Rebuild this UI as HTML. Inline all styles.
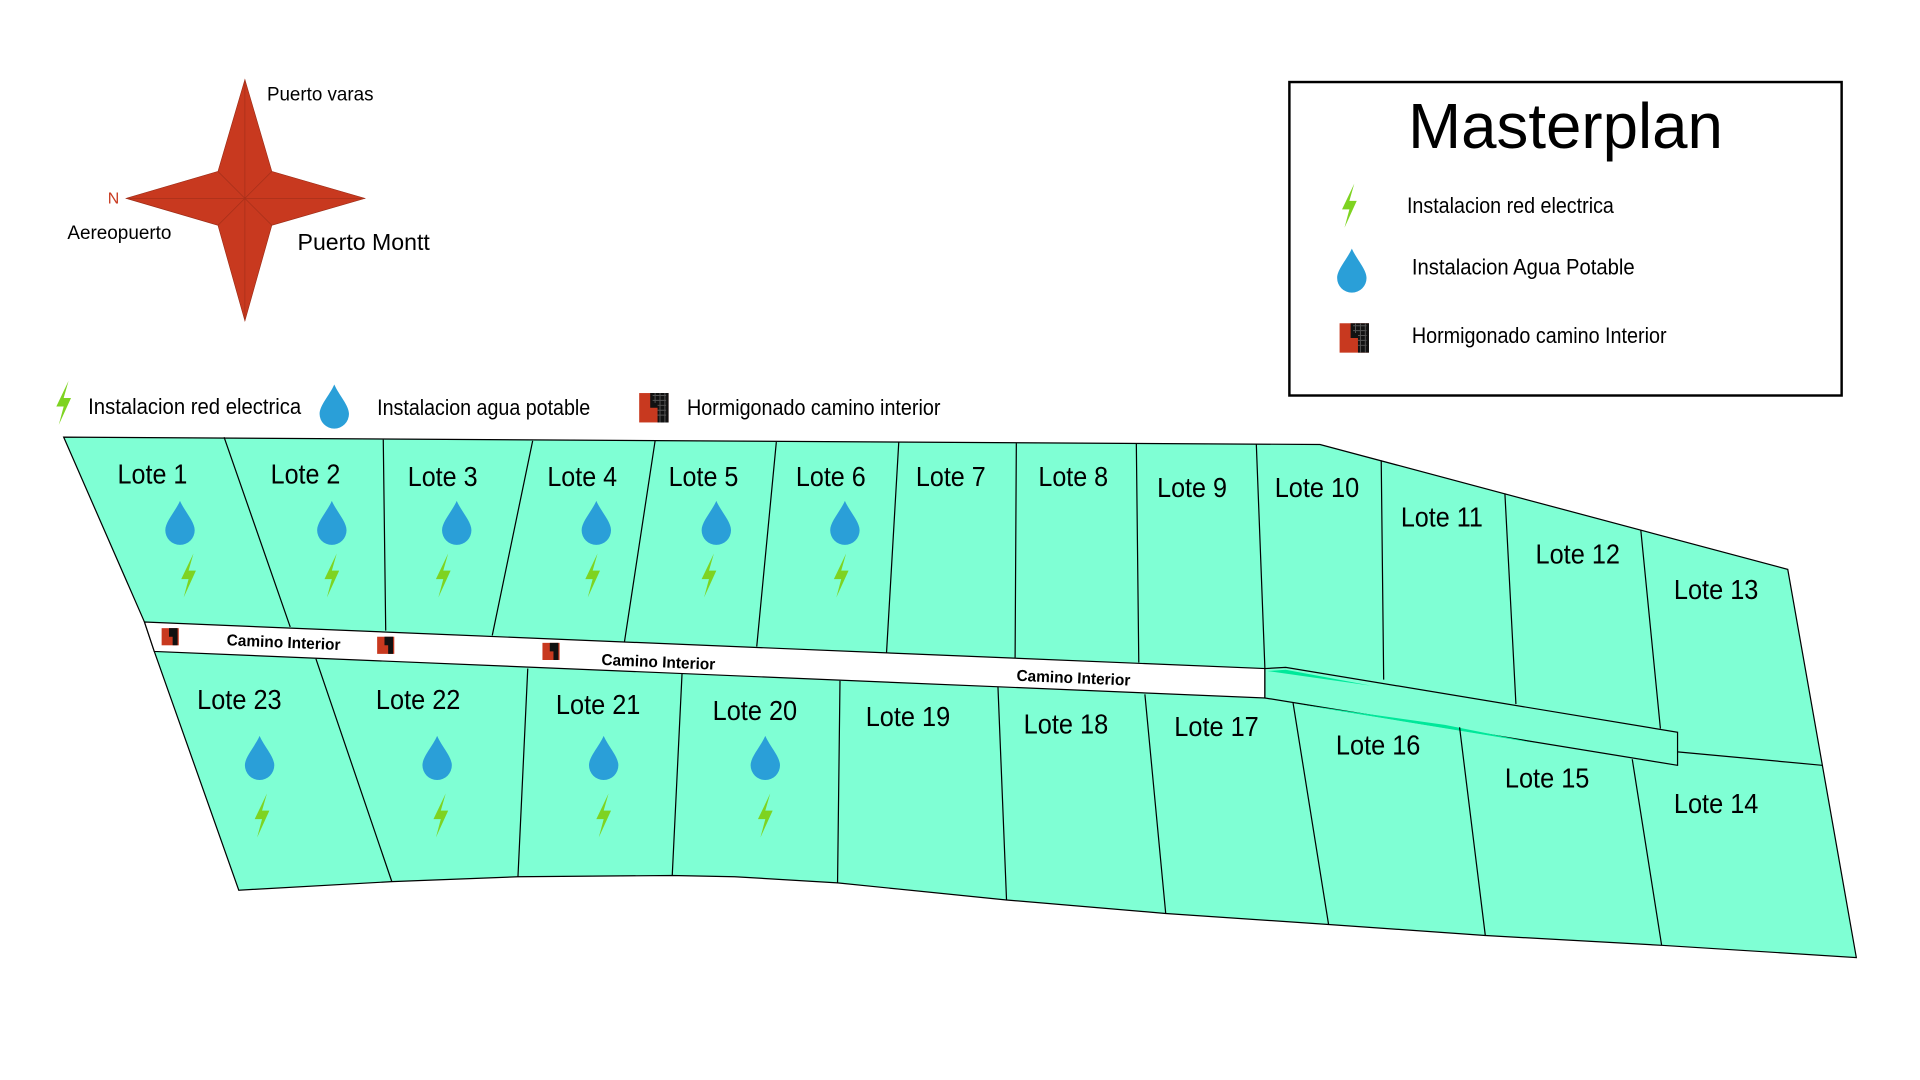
<!DOCTYPE html>
<html><head><meta charset="utf-8"><style>
html,body{margin:0;padding:0;background:#fff;width:1920px;height:1080px;overflow:hidden}
svg{display:block}
text{font-family:"Liberation Sans",sans-serif;fill:#000}
</style></head><body>
<svg width="1920" height="1080" viewBox="0 0 1568 882" preserveAspectRatio="none" xmlns="http://www.w3.org/2000/svg">
<defs>
<path id="drop" d="M0,-17 C4,-8 12,0 12,7 A12,12 0 0 1 -12,7 C-12,0 -4,-8 0,-17Z" fill="#2a9fd8"/>
<polygon id="bolt" points="4,-18 -6,3 0,3 -4,18 6,-4 0,-4" fill="#7ed321"/>
<g id="conc"><rect x="-12" y="-12" width="24" height="24" fill="#c8391f"/><path d="M-3,-12 H12 V12 H3 V0 H-3Z" fill="#111"/><path d="M-1,-10 H10 M-1,-6 H10 M3,-2 H10 M3,2 H10 M3,6 H10 M1,-12 V-4 M5,-12 V12 M9,-12 V12" stroke="#555" stroke-width="0.8"/></g>
<g id="concs"><rect x="-7" y="-7" width="14" height="14" fill="#c8391f"/><path d="M-1,-7 H6 V7 H2 V0 H-1Z" fill="#111"/></g>
</defs>

<g fill="#c8391f" stroke="#9a2a15" stroke-width="0.5">
<polygon points="200,65 222,140 298,162 222,184 200,262 178,184 103,162 178,140"/>
</g>
<path d="M200,65 V262 M103,162 H298 M178,140 L222,184 M222,140 L178,184" stroke="#a8301a" stroke-width="0.6"/>
<text x="218" y="82" font-size="16" textLength="87" lengthAdjust="spacingAndGlyphs">Puerto varas</text>
<text x="88" y="166" font-size="13" style="fill:#c8391f">N</text>
<text x="55" y="195" font-size="16" textLength="85" lengthAdjust="spacingAndGlyphs">Aereopuerto</text>
<text x="243" y="204" font-size="19" textLength="108" lengthAdjust="spacingAndGlyphs">Puerto Montt</text>

<rect x="1053" y="67" width="451" height="256" fill="#fff" stroke="#000" stroke-width="2"/>
<text x="1150" y="121" font-size="52" textLength="257" lengthAdjust="spacingAndGlyphs">Masterplan</text>
<use href="#bolt" x="1102" y="168"/>
<text x="1149" y="174" font-size="18" textLength="169" lengthAdjust="spacingAndGlyphs">Instalacion red electrica</text>
<use href="#drop" x="1104" y="220"/>
<text x="1153" y="224" font-size="18" textLength="182" lengthAdjust="spacingAndGlyphs">Instalacion  Agua Potable</text>
<use href="#conc" x="1106" y="276"/>
<text x="1153" y="280" font-size="18" textLength="208" lengthAdjust="spacingAndGlyphs">Hormigonado camino Interior</text>

<use href="#bolt" x="52" y="329"/>
<text x="72" y="338" font-size="18" textLength="174" lengthAdjust="spacingAndGlyphs">Instalacion  red electrica</text>
<use href="#drop" x="273" y="331"/>
<text x="308" y="339" font-size="18" textLength="174" lengthAdjust="spacingAndGlyphs">Instalacion agua potable</text>
<use href="#conc" x="534" y="333"/>
<text x="561" y="339" font-size="18" textLength="207" lengthAdjust="spacingAndGlyphs">Hormigonado camino interior</text>

<polygon points="52,357 1078,363 1460,465 1516,782 1357,772 1213,764 1085,755 952,746 822,735 684,721 600,716 549,715 423,716 320,720 195,727 126,532 118,508" fill="#7fffd4" stroke="#000" stroke-width="1"/>
<polygon points="118,508 1033,546 1033,570 126,532" fill="#fff" stroke="#000" stroke-width="1"/>
<polygon points="1033,546 1050,545 1370,598 1370,625 1033,570" fill="#7fffd4" stroke="#000" stroke-width="1"/>
<path d="M1035,548 L1050,547 L1120,560 Z" fill="#00e89a"/>
<path d="M1060,575 L1180,592 L1255,607 Z" fill="#00e89a"/>
<g stroke="#000" stroke-width="1" fill="none">
<path d="M183,357 L237,512 M313,359 L315,515 M435,360 L402,519 M535,360 L510,524 M634,361 L618,528 M734,361 L724,533 M830,362 L829,537 M928,362 L930,541 M1026,363 L1033,546 M1128,376 L1130,555 M1229,403 L1238,575 M1340,433 L1356,595"/>
<path d="M1370,614 L1488,625"/>
<path d="M258,538 L320,720 M431,546 L423,716 M557,550 L549,715 M686,556 L684,721 M815,561 L822,735 M935,567 L952,746 M1056,574 L1085,755 M1192,594 L1213,764 M1333,620 L1357,772"/>
</g>

<g font-size="13" font-weight="bold">
<text x="185" y="527" transform="rotate(2.4 185 527)" textLength="93" lengthAdjust="spacingAndGlyphs">Camino  Interior</text>
<text x="491" y="543" transform="rotate(2.4 491 543)" textLength="93" lengthAdjust="spacingAndGlyphs">Camino  Interior</text>
<text x="830" y="556" transform="rotate(2.4 830 556)" textLength="93" lengthAdjust="spacingAndGlyphs">Camino  Interior</text>
</g>
<use href="#concs" x="139" y="520"/>
<use href="#concs" x="315" y="527"/>
<use href="#concs" x="450" y="532"/>

<g font-size="23" lengthAdjust="spacingAndGlyphs">
<text x="96" y="395" textLength="57" lengthAdjust="spacingAndGlyphs">Lote 1</text>
<text x="221" y="395" textLength="57" lengthAdjust="spacingAndGlyphs">Lote 2</text>
<text x="333" y="397" textLength="57" lengthAdjust="spacingAndGlyphs">Lote 3</text>
<text x="447" y="397" textLength="57" lengthAdjust="spacingAndGlyphs">Lote 4</text>
<text x="546" y="397" textLength="57" lengthAdjust="spacingAndGlyphs">Lote 5</text>
<text x="650" y="397" textLength="57" lengthAdjust="spacingAndGlyphs">Lote 6</text>
<text x="748" y="397" textLength="57" lengthAdjust="spacingAndGlyphs">Lote 7</text>
<text x="848" y="397" textLength="57" lengthAdjust="spacingAndGlyphs">Lote 8</text>
<text x="945" y="406" textLength="57" lengthAdjust="spacingAndGlyphs">Lote 9</text>
<text x="1041" y="406" textLength="69" lengthAdjust="spacingAndGlyphs">Lote 10</text>
<text x="1144" y="430" textLength="67" lengthAdjust="spacingAndGlyphs">Lote 11</text>
<text x="1254" y="460" textLength="69" lengthAdjust="spacingAndGlyphs">Lote 12</text>
<text x="1367" y="489" textLength="69" lengthAdjust="spacingAndGlyphs">Lote 13</text>
<text x="1367" y="664" textLength="69" lengthAdjust="spacingAndGlyphs">Lote 14</text>
<text x="1229" y="643" textLength="69" lengthAdjust="spacingAndGlyphs">Lote 15</text>
<text x="1091" y="616" textLength="69" lengthAdjust="spacingAndGlyphs">Lote 16</text>
<text x="959" y="601" textLength="69" lengthAdjust="spacingAndGlyphs">Lote 17</text>
<text x="836" y="599" textLength="69" lengthAdjust="spacingAndGlyphs">Lote 18</text>
<text x="707" y="593" textLength="69" lengthAdjust="spacingAndGlyphs">Lote 19</text>
<text x="582" y="588" textLength="69" lengthAdjust="spacingAndGlyphs">Lote 20</text>
<text x="454" y="583" textLength="69" lengthAdjust="spacingAndGlyphs">Lote 21</text>
<text x="307" y="579" textLength="69" lengthAdjust="spacingAndGlyphs">Lote 22</text>
<text x="161" y="579" textLength="69" lengthAdjust="spacingAndGlyphs">Lote 23</text>
</g>

<use href="#drop" x="147" y="426"/><use href="#bolt" x="154" y="470"/>
<use href="#drop" x="271" y="426"/><use href="#bolt" x="271" y="470"/>
<use href="#drop" x="373" y="426"/><use href="#bolt" x="362" y="470"/>
<use href="#drop" x="487" y="426"/><use href="#bolt" x="484" y="470"/>
<use href="#drop" x="585" y="426"/><use href="#bolt" x="579" y="470"/>
<use href="#drop" x="690" y="426"/><use href="#bolt" x="687" y="470"/>
<use href="#drop" x="212" y="618"/><use href="#bolt" x="214" y="666"/>
<use href="#drop" x="357" y="618"/><use href="#bolt" x="360" y="666"/>
<use href="#drop" x="493" y="618"/><use href="#bolt" x="493" y="666"/>
<use href="#drop" x="625" y="618"/><use href="#bolt" x="625" y="666"/>
</svg>
</body></html>
